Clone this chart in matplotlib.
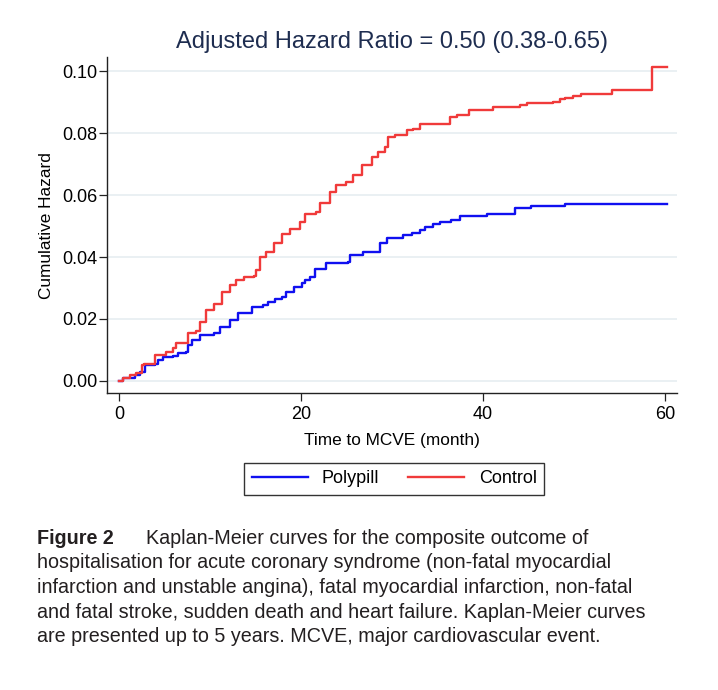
import matplotlib
matplotlib.use('Agg')
import matplotlib.pyplot as plt
from matplotlib.lines import Line2D

plt.rcParams['font.family'] = ['Liberation Sans', 'DejaVu Sans']

# cumulative hazard step data
control_t = [0, 0.5, 1.2, 1.9, 2.5, 2.8, 4.0, 5.2, 6.0, 6.3, 7.6, 8.5, 8.9, 9.6,
             10.5, 11.3, 12.2, 12.9, 13.7, 14.8, 15.1, 15.5, 16.2, 17.0, 17.9,
             18.8, 19.9, 20.4, 21.7, 22.1, 23.2, 23.9, 25.0, 25.7, 26.7, 27.8,
             28.5, 29.2, 29.6, 30.3, 31.6, 32.3, 33.1, 36.4, 37.1, 38.4, 41.1,
             44.1, 44.8, 47.7, 48.4, 49.0, 49.9, 50.8, 54.1, 58.6, 60.2]
control_h = [0, 0.001, 0.002, 0.0025, 0.005, 0.0055, 0.0084, 0.0095, 0.0105,
             0.0122, 0.0154, 0.016, 0.0191, 0.0229, 0.025, 0.0288, 0.031,
             0.0326, 0.0337, 0.034, 0.0358, 0.0401, 0.0417, 0.0444, 0.0476,
             0.0492, 0.0514, 0.054, 0.0546, 0.0573, 0.061, 0.0632, 0.0643,
             0.0665, 0.0697, 0.0724, 0.074, 0.0756, 0.0788, 0.0794, 0.081,
             0.0815, 0.0831, 0.0852, 0.086, 0.0876, 0.0883, 0.089, 0.0898,
             0.0901, 0.0909, 0.0915, 0.0919, 0.0928, 0.0939, 0.1012, 0.1012]

polypill_t = [0, 0.5, 1.8, 2.3, 2.9, 4.0, 4.3, 4.9, 6.0, 6.5, 7.4, 7.6, 8.0, 8.9,
              10.5, 11.1, 12.2, 13.1, 14.6, 15.8, 16.4, 17.1, 17.9, 18.4, 19.2,
              20.1, 20.4, 21.0, 21.5, 22.8, 25.2, 25.4, 26.8, 28.7, 29.5, 31.2,
              32.2, 33.1, 33.6, 34.5, 35.3, 36.5, 37.5, 40.4, 43.5, 45.3, 49.0,
              60.2]
polypill_h = [0, 0.001, 0.002, 0.003, 0.0052, 0.0055, 0.0068, 0.0078, 0.008,
              0.0089, 0.0095, 0.0116, 0.0132, 0.0148, 0.0154, 0.0175, 0.0197,
              0.0218, 0.024, 0.0245, 0.0256, 0.0266, 0.0271, 0.0288, 0.0304,
              0.0315, 0.0326, 0.0337, 0.0363, 0.038, 0.0385, 0.0406, 0.0417,
              0.0444, 0.046, 0.0471, 0.0478, 0.0487, 0.0498, 0.0506, 0.0512,
              0.0519, 0.0533, 0.0538, 0.0557, 0.0565, 0.0571, 0.0571]

x_ticks = [0, 20, 40, 60]
y_ticks = [0.00, 0.02, 0.04, 0.06, 0.08, 0.10]

blue = '#1010f0'
red = '#f03a3a'

fig = plt.figure(figsize=(7.18, 6.9), dpi=100)
ax = fig.add_axes([0.149, 0.4304, 0.794, 0.4866])

for yt in y_ticks:
    ax.axhline(yt, color='#e8eff2', lw=1.3, zorder=0)

ax.step(polypill_t, polypill_h, where='post', color=blue, lw=1.7)
ax.step(control_t, control_h, where='post', color=red, lw=1.7)

ax.set_xlim(-1.3, 61.3)
ax.set_ylim(-0.0039, 0.1045)
ax.set_xticks(x_ticks)
ax.set_yticks(y_ticks)
ax.set_yticklabels(['%.2f' % v for v in y_ticks])
ax.tick_params(labelsize=13, length=5.5, width=0.9, color='#222222', pad=1.5)
ax.tick_params(axis='x', pad=4)
for s in ['top', 'right']:
    ax.spines[s].set_visible(False)
for s in ['left', 'bottom']:
    ax.spines[s].set_linewidth(1.0)
    ax.spines[s].set_color('#222222')

ax.set_xlabel('Time to MCVE (month)', fontsize=12.4, labelpad=7)
ax.set_ylabel('Cumulative Hazard', fontsize=12.4, labelpad=6)
ax.set_title('Adjusted Hazard Ratio = 0.50 (0.38-0.65)', fontsize=17,
             color='#1e2d50', pad=7)

handles = [Line2D([], [], color=blue, lw=1.7), Line2D([], [], color=red, lw=1.7)]
leg = fig.legend(handles, ['Polypill', 'Control'], loc='center',
                 bbox_to_anchor=(0.549, 0.3058), ncol=2, fontsize=13,
                 handlelength=3.1, columnspacing=1.6, handletextpad=0.8,
                 frameon=True, fancybox=False, borderpad=0.4)
leg.get_frame().set_edgecolor('black')
leg.get_frame().set_linewidth(1.0)

cap_font = ['Liberation Sans', 'DejaVu Sans']
cap_color = '#231f20'
cap_size = 14.25
lines = ['hospitalisation for acute coronary syndrome (non-fatal myocardial',
         'infarction and unstable angina), fatal myocardial infarction, non-fatal',
         'and fatal stroke, sudden death and heart failure. Kaplan-Meier curves',
         'are presented up to 5 years. MCVE, major cardiovascular event.']
fig.text(37 / 718, 1 - 538 / 690, 'Figure 2', fontsize=cap_size, fontweight='bold',
         family=cap_font, color=cap_color, va='center')
fig.text(146 / 718, 1 - 538 / 690, 'Kaplan-Meier curves for the composite outcome of',
         fontsize=cap_size, family=cap_font, color=cap_color, va='center')
for i, ln in enumerate(lines):
    fig.text(37 / 718, 1 - (563 + 24.5 * i) / 690, ln, fontsize=cap_size,
             family=cap_font, color=cap_color, va='center')

fig.savefig('out.png', dpi=100)
